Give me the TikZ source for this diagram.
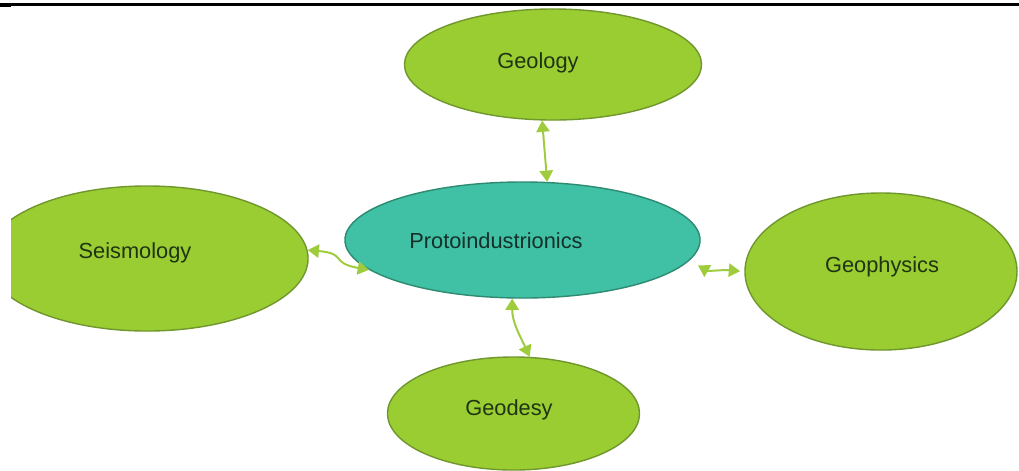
\documentclass[tikz,border=0pt]{standalone}
\usepackage{fontspec}
\setmainfont{Liberation Sans}
\usetikzlibrary{shapes,arrows.meta}
\definecolor{leafgreen}{RGB}{154,205,50}
\definecolor{leafedge}{RGB}{112,150,46}
\definecolor{tealfill}{RGB}{64,192,165}
\definecolor{tealedge}{RGB}{46,138,112}
\definecolor{linkgreen}{RGB}{158,204,60}
\definecolor{inkgreen}{RGB}{30,52,18}
\definecolor{inkteal}{RGB}{20,48,40}
\tikzset{leaf/.style={ellipse,draw=leafedge,fill=leafgreen,line width=1pt,inner sep=0pt},
  hub/.style={ellipse,draw=tealedge,fill=tealfill,line width=1pt,inner sep=0pt},
  lbl/.style={anchor=base,inner sep=0pt,font=\fontsize{15.5}{18}\selectfont,text=inkgreen},
  link/.style={linkgreen,line width=1.4pt,>={Triangle[length=8pt,width=9.5pt]},<->}}

\begin{document}
\begin{tikzpicture}[x=0.025cm,y=-0.025cm]
\useasboundingbox (0,0) rectangle (1019,470);
\fill (0,2.5) rectangle (1019,5.5);
\fill (0,3) rectangle (11,6.5);
\begin{scope}
\clip (11,0) rectangle (1019,470);
\node (seismology) at (147,258.5) [leaf,minimum width=8.05cm,minimum height=3.625cm] {};
\end{scope}
\node (geology) at (553,64.5) [leaf,minimum width=7.425cm,minimum height=2.775cm] {};
\node (geophysics) at (881,271.5) [leaf,minimum width=6.8cm,minimum height=3.925cm] {};
\node (geodesy) at (513.5,413.5) [leaf,minimum width=6.3cm,minimum height=2.825cm] {};
\node (proto) at (522.5,240) [hub,minimum width=8.875cm,minimum height=2.9cm] {};
\node (geologylbl) at (538,68) [lbl] {Geology};
\node (protolbl) at (496,248) [lbl,text=inkteal] {Protoindustrionics};
\node (seismologylbl) at (135,258) [lbl] {Seismology};
\node (geophysicslbl) at (882,272) [lbl] {Geophysics};
\node (geodesylbl) at (509,415) [lbl] {Geodesy};
\draw[link] (geology.-101) -- (proto.67);
\draw[link] (seismology.3) to[out=-5,in=170,looseness=1.6] (proto.-169);
\draw[link,shorten <=7pt,shorten >=3pt] (proto.-7) to[out=-30,in=175] (geophysics.180);
\draw[link] (proto.-100) to[out=-90,in=115] (geodesy.74);
\end{tikzpicture}
\end{document}
